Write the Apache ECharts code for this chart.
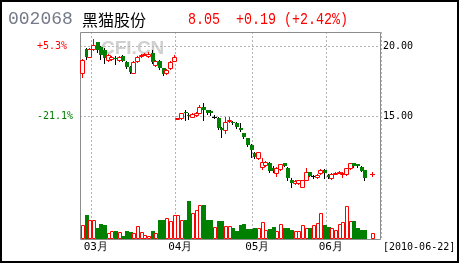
<!DOCTYPE html>
<html><head><meta charset="utf-8">
<script src="https://cdn.jsdelivr.net/npm/echarts@6/dist/echarts.min.js"></script>
<style>html,body{margin:0;padding:0;background:#fff}#c{width:460px;height:270px}</style>
</head><body><div id="c"></div>
<script>
const dates = [
'2010-02-24','2010-02-25','2010-02-26',
'2010-03-01','2010-03-02','2010-03-03','2010-03-04','2010-03-05','2010-03-08','2010-03-09','2010-03-10','2010-03-11','2010-03-12',
'2010-03-15','2010-03-16','2010-03-17','2010-03-18','2010-03-19','2010-03-22','2010-03-23','2010-03-24','2010-03-25','2010-03-26',
'2010-03-29','2010-03-30','2010-03-31',
'2010-04-01','2010-04-02','2010-04-06','2010-04-07','2010-04-08','2010-04-09','2010-04-12','2010-04-13','2010-04-14','2010-04-15','2010-04-16',
'2010-04-19','2010-04-20','2010-04-21','2010-04-22','2010-04-23','2010-04-26','2010-04-27','2010-04-28','2010-04-29','2010-04-30',
'2010-05-04','2010-05-05','2010-05-06','2010-05-07','2010-05-10','2010-05-11','2010-05-12','2010-05-13','2010-05-14',
'2010-05-17','2010-05-18','2010-05-19','2010-05-20','2010-05-21','2010-05-24','2010-05-25','2010-05-26','2010-05-27','2010-05-28','2010-05-31',
'2010-06-01','2010-06-02','2010-06-03','2010-06-04','2010-06-07','2010-06-08','2010-06-09','2010-06-10','2010-06-11',
'2010-06-17','2010-06-18','2010-06-21','2010-06-22'
];
const opens = [
18.05,19.79,19.24,19.79,20.26,19.90,19.71,19.00,19.10,19.15,19.00,19.30,18.88,18.52,18.10,18.90,19.30,19.40,19.30,19.48,18.64,18.95,18.40,18.05,18.40,18.95,
14.83,14.83,15.31,15.10,14.95,15.05,15.25,15.67,15.40,15.35,14.95,14.85,14.12,14.00,14.70,14.59,14.48,14.12,13.76,13.40,12.93,
12.33,11.98,11.38,11.50,11.62,11.30,10.95,11.22,11.62,11.30,10.43,10.19,10.19,9.92,10.43,10.98,10.70,10.62,10.90,11.14,
10.79,10.55,10.90,11.00,10.88,10.83,11.26,11.62,11.55,11.38,11.14,null,10.86
];
const closes = [
19.00,19.24,19.79,20.07,19.75,19.36,19.12,19.36,19.20,19.10,19.24,18.95,18.52,18.15,18.88,19.24,19.36,19.42,19.40,18.88,18.95,18.40,18.00,18.29,18.88,19.24,
14.85,15.19,15.19,15.00,15.15,15.25,15.67,15.40,15.25,15.20,14.95,14.12,14.00,14.59,14.72,14.48,14.24,14.00,13.52,12.93,12.57,
12.10,12.40,11.74,11.70,11.08,11.10,11.30,11.55,11.46,10.55,10.25,10.35,10.40,10.43,10.98,10.75,10.70,10.79,11.17,10.90,
10.65,10.85,10.95,11.02,10.90,11.26,11.62,11.40,11.40,11.10,10.55,null,10.86
];
const lows = [
17.76,19.10,19.20,19.70,19.60,19.10,18.76,18.90,19.00,18.75,18.95,18.90,18.45,18.05,18.05,18.85,19.25,19.35,19.25,18.80,18.60,18.35,17.95,18.00,18.35,18.90,
14.80,14.80,14.71,14.80,14.90,15.00,15.20,14.71,15.15,15.10,14.85,14.05,13.52,13.76,14.60,14.40,14.12,13.90,13.45,12.85,12.10,
11.98,11.90,11.20,11.40,11.00,11.00,10.70,11.15,11.40,10.43,9.90,10.15,10.15,9.90,10.40,10.70,10.60,10.55,10.85,10.55,
10.60,10.50,10.85,10.90,10.67,10.80,11.20,11.35,11.35,11.05,10.45,null,10.70
];
const highs = [
19.05,19.85,19.85,20.48,20.30,20.00,19.85,19.45,19.30,19.30,19.30,19.36,18.95,18.60,18.95,19.30,19.45,19.50,19.55,19.71,19.00,19.00,18.45,18.35,18.95,19.36,
14.88,15.25,15.43,15.20,15.20,15.30,15.79,15.90,15.45,15.40,15.05,14.90,14.20,14.95,14.95,14.65,14.55,14.50,13.80,13.45,13.00,
12.45,12.45,11.98,11.80,11.70,11.40,11.35,11.60,11.65,11.38,10.55,10.40,10.45,10.45,11.30,11.00,10.80,10.85,11.25,11.20,
10.85,10.90,11.00,11.10,11.00,11.30,11.65,11.65,11.60,11.40,11.14,null,11.02
];
const volumes = [
14,24,19,19,11,15,14,6,8,8,7,3,8,7,6,13,7,4,3,8,6,19,19,21,18,24,
24,19,19,38,26,29,34,34,19,19,12,18,18,13,13,11,8,14,15,10,10,
11,11,17,9,10,12,8,15,11,11,9,8,8,14,11,11,14,16,26,14,
12,11,9,15,17,33,18,18,11,9,9,null,6
];
const priceTicks = [15, 20];
const priceTickLabels = ['15.00', '20.00'];
const pctTickLabels = ['-21.1%', '+5.3%'];
const pctTickColors = ['#008000', '#ff0000'];
const extraSlots = ['', ''];

const RED = '#ff0000', GREEN = '#008000';
const categories = dates.concat(extraSlots);
const monthStart = categories.map((d, i) => i > 0 && d && dates[i - 1] && d.slice(5, 7) !== dates[i - 1].slice(5, 7));

const candleData = [], volData = [];
dates.forEach((d, i) => {
  if (opens[i] == null) return;
  let prev = null;
  for (let k = i - 1; k >= 0; k--) { if (closes[k] != null) { prev = closes[k]; break; } }
  candleData.push([i, opens[i], closes[i], lows[i], highs[i], prev == null ? opens[i] : prev]);
  volData.push([i, volumes[i], closes[i] >= opens[i] ? 1 : 0]);
});

function renderCandle(params, api) {
  const i = api.value(0);
  const o = api.value(1), c = api.value(2), lo = api.value(3), hi = api.value(4), pc = api.value(5);
  const cx = Math.round(api.coord([i, o])[0]);
  const yO = Math.round(api.coord([i, o])[1]);
  const yC = Math.round(api.coord([i, c])[1]);
  const yL = Math.round(api.coord([i, lo])[1]);
  const yH = Math.round(api.coord([i, hi])[1]);
  const ch = [];
  const X = cx + 0.5;
  if (c > o) {
    if (yC > yH) ch.push({type: 'line', shape: {x1: X, y1: yH, x2: X, y2: yC}, style: {stroke: RED, lineWidth: 1}});
    if (yL > yO) ch.push({type: 'line', shape: {x1: X, y1: yO, x2: X, y2: yL + 1}, style: {stroke: RED, lineWidth: 1}});
    ch.push({type: 'rect', shape: {x: cx - 1.5, y: yC + 0.5, width: 4, height: Math.max(yO - yC, 1)}, style: {fill: '#fff', stroke: RED, lineWidth: 1}});
  } else if (c < o) {
    ch.push({type: 'line', shape: {x1: X, y1: yH, x2: X, y2: yL + 1}, style: {stroke: '#000', lineWidth: 1}});
    ch.push({type: 'rect', shape: {x: cx - 1, y: yO, width: 4, height: Math.max(yC - yO, 1)}, style: {fill: GREEN}});
  } else {
    const col = c > pc ? RED : '#000';
    ch.push({type: 'line', shape: {x1: X, y1: yH, x2: X, y2: yL + 1}, style: {stroke: col, lineWidth: 1}});
    ch.push({type: 'line', shape: {x1: cx - 2, y1: yO + 0.5, x2: cx + 3, y2: yO + 0.5}, style: {stroke: col, lineWidth: 1}});
  }
  return {type: 'group', children: ch};
}

function renderVol(params, api) {
  const i = api.value(0), v = api.value(1), up = api.value(2);
  const p = api.coord([i, v]), b = api.coord([i, 0]);
  const cx = Math.round(p[0]);
  const yT = Math.round(p[1]), yB = Math.round(b[1]);
  if (up) {
    return {type: 'rect', shape: {x: cx - 0.5, y: yT + 0.5, width: 3, height: yB - yT - 1}, style: {fill: '#fff', stroke: RED, lineWidth: 1}};
  }
  return {type: 'rect', shape: {x: cx - 1, y: yT, width: 4, height: yB - yT}, style: {fill: GREEN}};
}

const chart = echarts.init(document.getElementById('c'), null, {renderer: 'canvas'});
const gridLine = {show: true, lineStyle: {color: '#b4b4b4', type: [2, 2], width: 1}};
chart.setOption({
  animation: false,
  backgroundColor: '#fff',
  grid: [
    {left: 80, width: 301, top: 32, height: 168},
    {left: 80, width: 301, top: 200, height: 39}
  ],
  xAxis: [
    {type: 'category', gridIndex: 0, data: categories, boundaryGap: true,
     axisLine: {show: false}, axisTick: {show: false}, axisLabel: {show: false},
     splitLine: Object.assign({interval: (idx) => monthStart[idx]}, gridLine)},
    {type: 'category', gridIndex: 1, data: categories, boundaryGap: true,
     axisLine: {show: false}, axisTick: {show: false},
     axisLabel: {interval: (idx) => monthStart[idx], formatter: (v) => v.slice(5, 7) + '月',
       fontSize: 11, fontFamily: 'DejaVu Sans Mono', color: '#000', margin: 3, padding: [0, 0, 0, 6]},
     splitLine: Object.assign({interval: (idx) => monthStart[idx]}, gridLine)}
  ],
  yAxis: [
    {type: 'value', gridIndex: 0, min: 9, max: 21, position: 'right',
     axisLine: {show: false}, axisTick: {show: false, customValues: priceTicks},
     axisLabel: {customValues: priceTicks, formatter: (v) => priceTickLabels[priceTicks.indexOf(v)],
       fontSize: 10, fontFamily: 'DejaVu Sans Mono', color: '#000', margin: 2},
     splitLine: gridLine},
    {type: 'value', gridIndex: 0, min: 9, max: 21, position: 'left',
     axisLine: {show: false}, axisTick: {show: false, customValues: priceTicks},
     axisLabel: {customValues: priceTicks, formatter: (v) => pctTickLabels[priceTicks.indexOf(v)],
       color: (v) => pctTickColors[priceTicks.indexOf(Number(v))],
       fontSize: 10, fontFamily: 'DejaVu Sans Mono', align: 'left', margin: 43},
     splitLine: {show: false}},
    {type: 'value', gridIndex: 1, min: 0, max: 39, show: false, splitLine: {show: false}}
  ],
  graphic: [
    {type: 'rect', shape: {x: 1, y: 1, width: 457, height: 261}, style: {fill: null, stroke: '#000', lineWidth: 2}, z: 100},
    {type: 'rect', shape: {x: 80.5, y: 32.5, width: 300, height: 207}, style: {fill: null, stroke: '#8c8c8c', lineWidth: 1}, z: 1},
    {type: 'text', x: 101, y: 48.5, style: {text: 'CFI.CN', font: 'bold 19px "Liberation Sans"', fill: '#d0d0d0', verticalAlign: 'middle'}, z: 0},
    {type: 'text', x: 8, y: 19, style: {text: '002068', font: '18px "Liberation Mono"', fill: '#747a88', verticalAlign: 'middle'}},
    {type: 'text', x: 82, y: 19.5, style: {text: '黑猫股份', font: '16px "Noto Sans CJK SC"', fill: '#000', verticalAlign: 'middle'}},
    {type: 'text', x: 188, y: 19.5, scaleX: 0.833, style: {text: '8.05', font: '16px "Liberation Mono"', fill: RED, verticalAlign: 'middle'}},
    {type: 'text', x: 236, y: 19.5, scaleX: 0.833, style: {text: '+0.19 (+2.42%)', font: '16px "Liberation Mono"', fill: RED, verticalAlign: 'middle'}},
    {type: 'text', x: 383, y: 247, style: {text: '[2010-06-22]', font: '10px "DejaVu Sans Mono"', fill: '#000', verticalAlign: 'middle'}}
  ],
  series: [
    {type: 'custom', name: 'K', xAxisIndex: 0, yAxisIndex: 0, data: candleData, renderItem: renderCandle,
     encode: {x: 0, y: [1, 2, 3, 4]}, clip: true, z: 5},
    {type: 'custom', name: 'VOL', xAxisIndex: 1, yAxisIndex: 2, data: volData, renderItem: renderVol,
     encode: {x: 0, y: 1}, z: 5}
  ]
});
</script></body></html>
